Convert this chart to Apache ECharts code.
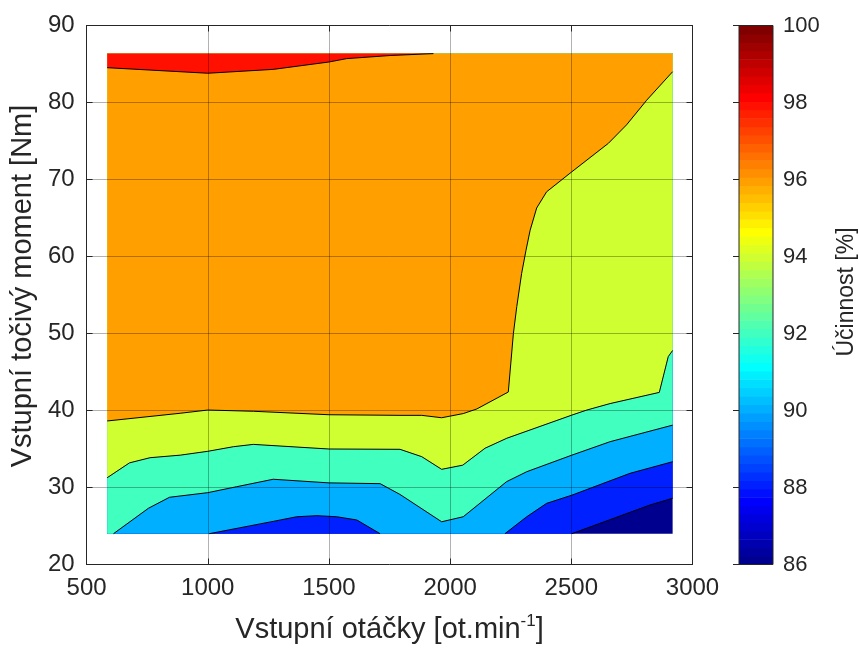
<!DOCTYPE html>
<html><head><meta charset="utf-8">
<script src="https://cdn.jsdelivr.net/npm/echarts@6/dist/echarts.min.js"></script>
<style>html,body{margin:0;padding:0;background:#fff}#c{width:859px;height:653px}</style>
</head><body><div id="c"></div>
<script>
// ---- axis ticks ----
const xTicks = [500, 1000, 1500, 2000, 2500, 3000];
const yTicks = [20, 30, 40, 50, 60, 70, 80, 90];
const cbTicks = [86, 88, 90, 92, 94, 96, 98, 100];

// ---- measured data extent [speed rpm], [torque Nm] ----
const speedRange = [585, 2918];
const torqueRange = [24, 86.35];

// ---- contour levels (efficiency %) ----
const levels = [86, 88, 90, 92, 94, 96, 98];

// ---- contour lines: pieces of [speed, torque] points ----
const contour88 = [
  [[2502, 24], [2825, 27.73], [2918, 28.6]]
];
const contour90 = [
  [[1006, 24], [1270, 25.6], [1367, 26.2], [1450, 26.34], [1532, 26.2], [1615, 25.78], [1711, 24]],
  [[2226, 24], [2316, 26.2], [2398, 27.94], [2502, 29.0], [2742, 31.84], [2918, 33.35]]
];
const contour92 = [
  [[611, 24], [755, 27.3], [842, 28.73], [1000, 29.33], [1119, 30.1], [1270, 31.07], [1500, 30.6],
   [1711, 30.5], [1793, 29.1], [1965, 25.55], [2054, 26.2], [2233, 30.76], [2316, 32.05],
   [2502, 34.2], [2660, 35.95], [2918, 38.1]]
];
const contour94 = [
  [[585, 31.27], [677, 33.2], [762, 33.87], [886, 34.2], [1000, 34.7], [1106, 35.3], [1188, 35.6],
   [1500, 35.0], [1793, 34.96], [1883, 34.0], [1965, 32.36], [2052, 32.9], [2144, 35.1],
   [2234, 36.4], [2502, 39.4], [2564, 40.06], [2660, 40.9], [2863, 42.35], [2900, 47.0], [2918, 47.8]]
];
const contour96 = [
  [[585, 38.64], [886, 39.64], [1000, 40.06], [1188, 39.9], [1500, 39.45], [1793, 39.37], [1883, 39.37],
   [1965, 39.06], [2054, 39.6], [2110, 40.2], [2240, 42.4], [2261, 50.0], [2275, 53.5], [2295, 57.8],
   [2313, 60.8], [2330, 63.4], [2357, 66.3], [2398, 68.4], [2502, 71.0], [2653, 74.7], [2728, 77.1],
   [2811, 80.3], [2918, 84.0]]
];
const contour98 = [
  [[585, 84.52], [1000, 83.8], [1270, 84.3], [1500, 85.26], [1573, 85.7], [1752, 86.1], [1931, 86.35]]
];

const contourPieces = [null, contour88, contour90, contour92, contour94, contour96, contour98];

// ---- jet(64) colormap ----
function jet64(k) { // k: 1..64
  const f = v => Math.max(0, Math.min(1, v));
  let r, g, b;
  r = k <= 24 ? 0 : (k <= 40 ? (k - 24) / 16 : (k <= 56 ? 1 : 1 - (k - 56) / 16));
  g = k <= 8 ? 0 : (k <= 24 ? (k - 8) / 16 : (k <= 40 ? 1 : (k <= 56 ? 1 - (k - 40) / 16 : 0)));
  b = k <= 8 ? 0.5 + k / 16 : (k <= 24 ? 1 : (k <= 40 ? 1 - (k - 24) / 16 : 0));
  return 'rgb(' + [r, g, b].map(v => Math.round(f(v) * 255)).join(',') + ')';
}
const cMin = 86, cMax = 100;
const levelColor = L => jet64(Math.floor((L - cMin) / (cMax - cMin) * 64) + 1);

function regionAbove(pieces) {
  const [x0, x1] = speedRange, [y0, y1] = torqueRange;
  if (!pieces) return [[x0, y0], [x1, y0], [x1, y1], [x0, y1]];
  const pts = [];
  const first = pieces[0][0];
  if (first[0] > x0) pts.push([x0, y0]);
  pieces.forEach(p => p.forEach(q => pts.push(q)));
  const last = pieces[pieces.length - 1];
  const lp = last[last.length - 1];
  if (lp[0] >= x1) pts.push([x1, y1]);
  pts.push([x0, y1]);
  return pts;
}
const regions = levels.map((L, i) => regionAbove(contourPieces[i]));
const lines = [];
contourPieces.forEach(p => { if (p) p.forEach(piece => lines.push(piece)); });

const AX = '#262626';
const FONT = 'Liberation Sans, Arial, Helvetica, sans-serif';
const plain = v => String(v);

const chart = echarts.init(document.getElementById('c'), null, { renderer: 'canvas' });
chart.setOption({
  animation: false,
  backgroundColor: '#fff',
  textStyle: { fontFamily: FONT },
  grid: [
    { left: 86.5, top: 25.5, width: 606, height: 539 },
    { left: 739, top: 25.5, width: 34, height: 539 }
  ],
  xAxis: [
    {
      gridIndex: 0, type: 'value', min: xTicks[0], max: xTicks[xTicks.length - 1], interval: 500, z: 5,
      axisLine: { show: true, lineStyle: { color: AX, width: 1 } },
      axisTick: { show: true, inside: true, length: 6, lineStyle: { color: AX } },
      axisLabel: { color: AX, fontSize: 24, margin: 12, fontFamily: FONT, formatter: plain },
      splitLine: { show: true, lineStyle: { color: 'rgba(0,0,0,0.3)', width: 1 } },
      name: '{a|Vstupní otáčky [ot.min}{s|-1}{a|]}',
      nameLocation: 'middle', nameGap: 48,
      nameTextStyle: {
        rich: {
          a: { fontSize: 29, color: AX, fontFamily: FONT, lineHeight: 34 },
          s: { fontSize: 17, color: AX, fontFamily: FONT, verticalAlign: 'top', lineHeight: 34 }
        }
      }
    },
    {
      gridIndex: 0, type: 'value', position: 'top', min: xTicks[0], max: xTicks[xTicks.length - 1], interval: 500, z: 5,
      axisLine: { show: true, lineStyle: { color: AX } },
      axisTick: { show: true, inside: true, length: 6, lineStyle: { color: AX } },
      axisLabel: { show: false }, splitLine: { show: false }
    },
    {
      gridIndex: 1, type: 'value', min: 0, max: 1, show: false
    }
  ],
  yAxis: [
    {
      gridIndex: 0, type: 'value', min: yTicks[0], max: yTicks[yTicks.length - 1], interval: 10, z: 5,
      axisLine: { show: true, lineStyle: { color: AX } },
      axisTick: { show: true, inside: true, length: 6, lineStyle: { color: AX } },
      axisLabel: { color: AX, fontSize: 24, margin: 12, fontFamily: FONT, formatter: plain },
      splitLine: { show: true, lineStyle: { color: 'rgba(0,0,0,0.3)', width: 1 } },
      name: 'Vstupní točivý moment [Nm]', nameLocation: 'middle', nameGap: 45,
      nameTextStyle: { fontSize: 29, color: AX, fontFamily: FONT, padding: [0, 0, 0, 18] }
    },
    {
      gridIndex: 0, type: 'value', position: 'right', min: yTicks[0], max: yTicks[yTicks.length - 1], interval: 10, z: 5,
      axisLine: { show: true, lineStyle: { color: AX } },
      axisTick: { show: true, inside: true, length: 6, lineStyle: { color: AX } },
      axisLabel: { show: false }, splitLine: { show: false }
    },
    {
      gridIndex: 1, type: 'value', position: 'right', min: cbTicks[0], max: cbTicks[cbTicks.length - 1], interval: 2, z: 5,
      axisLine: { show: false },
      axisTick: { show: true, inside: true, length: 6, lineStyle: { color: AX } },
      axisLabel: { color: AX, fontSize: 22, margin: 10, fontFamily: FONT, formatter: plain },
      splitLine: { show: false },
      name: 'Účinnost [%]', nameLocation: 'middle', nameGap: 62, nameRotate: 90,
      nameTextStyle: { fontSize: 23, color: AX, fontFamily: FONT, padding: [0, 0, 0, 6] }
    }
  ],
  series: [
    {
      type: 'custom', xAxisIndex: 0, yAxisIndex: 0, z: 1,
      data: levels.map(L => [L]),
      renderItem: function (params, api) {
        const pts = regions[params.dataIndex].map(p => api.coord(p));
        const col = levelColor(levels[params.dataIndex]);
        return { type: 'polygon', shape: { points: pts }, style: { fill: col } };
      }
    },
    {
      type: 'custom', xAxisIndex: 0, yAxisIndex: 0, z: 2,
      data: lines.map((l, i) => [i]),
      renderItem: function (params, api) {
        const pts = lines[params.dataIndex].map(p => api.coord(p));
        return { type: 'polyline', shape: { points: pts }, style: { stroke: '#000', lineWidth: 1, fill: null } };
      }
    },
    {
      type: 'custom', xAxisIndex: 2, yAxisIndex: 2, z: 1,
      data: Array.from({ length: 64 }, (_, k) => [k]),
      renderItem: function (params, api) {
        const k = params.dataIndex;
        const step = (cMax - cMin) / 64;
        const a = api.coord([0, cMin + (k + 1) * step]);
        const b = api.coord([1, cMin + k * step]);
        return { type: 'rect', shape: { x: a[0], y: a[1], width: b[0] - a[0], height: b[1] - a[1] + 0.6 }, style: { fill: jet64(k + 1) } };
      }
    },
    {
      type: 'custom', xAxisIndex: 2, yAxisIndex: 2, z: 3,
      data: [[0]],
      renderItem: function (params, api) {
        const a = api.coord([0, cMax]);
        const b = api.coord([1, cMin]);
        return { type: 'rect', shape: { x: a[0], y: a[1], width: b[0] - a[0], height: b[1] - a[1] }, style: { fill: null, stroke: AX, lineWidth: 1 } };
      }
    }
  ]
});
</script></body></html>
